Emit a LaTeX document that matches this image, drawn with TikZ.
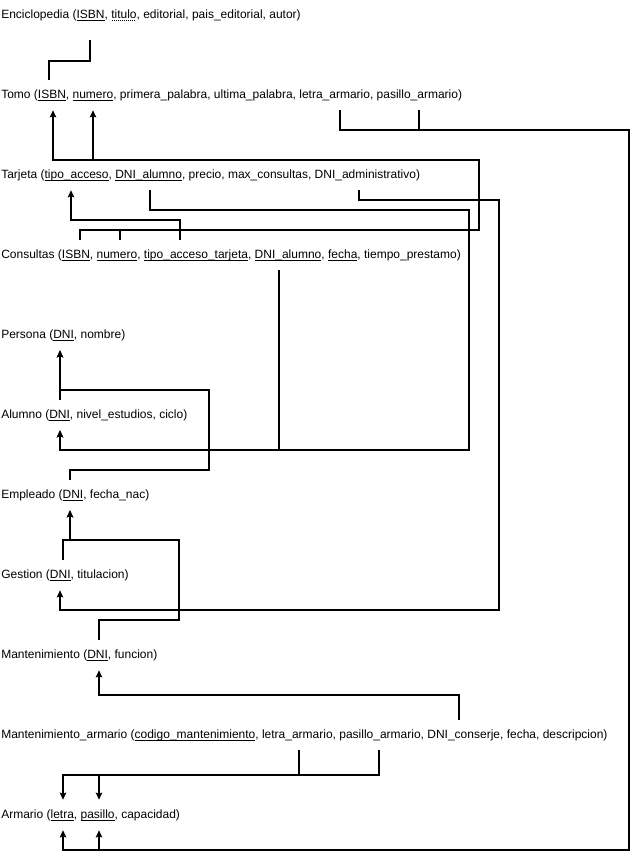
\documentclass[tikz,border=0pt]{standalone}
\usepackage{fontspec}
\setmainfont{Liberation Sans}
\usetikzlibrary{arrows.meta,calc}

% key attributes: plain and dotted underline
\newcommand\key[1]{\setbox0\hbox{#1}\rlap{\raisebox{-1.9pt}{\rule{\wd0}{0.55pt}}}\box0}
\newcommand\partkey[1]{\setbox0\hbox{#1}\rlap{\raisebox{-1.9pt}{\hbox to \wd0{\leaders\hbox to 1.5pt{\hss\rule{0.6pt}{0.6pt}\hss}\hfill}}}\box0}

\begin{document}
\begin{tikzpicture}[x=0.75pt, y=-0.75pt, >={Stealth[length=5.5pt,width=5pt,inset=1.2pt]},
    rel/.style={anchor=west, inner xsep=0pt, minimum height=22.5pt, font=\fontsize{9pt}{11pt}\selectfont},
    fk/.style={line width=0.8pt}]
    \useasboundingbox (0,0) rectangle (639,859);

    % Relations
    \node[rel] (enc) at (1,15) {Enciclopedia (\key{ISBN}, \partkey{titulo}, editorial, pais\_editorial, autor)};
    \node[rel] (tomo) at (1,95) {Tomo (\key{ISBN}, \key{numero}, primera\_palabra, ultima\_palabra, letra\_armario, pasillo\_armario)};
    \node[rel] (tarjeta) at (1,175) {Tarjeta (\key{tipo\_acceso}, \key{DNI\_alumno}, precio, max\_consultas, DNI\_administrativo)};
    \node[rel] (consultas) at (1,255) {Consultas (\key{ISBN}, \key{numero}, \key{tipo\_acceso\_tarjeta}, \key{DNI\_alumno}, \key{fecha}, tiempo\_prestamo)};
    \node[rel] (persona) at (1,335) {Persona (\key{DNI}, nombre)};
    \node[rel] (alumno) at (1,415) {Alumno (\key{DNI}, nivel\_estudios, ciclo)};
    \node[rel] (empleado) at (1,495) {Empleado (\key{DNI}, fecha\_nac)};
    \node[rel] (gestion) at (1,575) {Gestion (\key{DNI}, titulacion)};
    \node[rel] (mant) at (1,655) {Mantenimiento (\key{DNI}, funcion)};
    \node[rel] (mantarm) at (1,735) {Mantenimiento\_armario (\key{codigo\_mantenimiento}, letra\_armario, pasillo\_armario, DNI\_conserje, fecha, descripcion)};
    \node[rel] (armario) at (1,815) {Armario (\key{letra}, \key{pasillo}, capacidad)};

    % Enciclopedia - Tomo
    \draw[fk] ($(enc.south -| 90,0)+(0,10)$) |- (49,61) -- (tomo.north -| 49,0);

    % Tomo -> Armario
    \draw[fk, ->] (tomo.south -| 340,0) |- (629,130) -- (629,850) -| (armario.south -| 63,0);
    \draw[fk, ->] (tomo.south -| 419,0) |- (629,130) -- (629,850) -| (armario.south -| 99,0);

    % Consultas -> Tomo
    \draw[fk, ->] (consultas.north -| 80,0) |- (479,230) |- (53,160) -- (tomo.south -| 53,0);
    \draw[fk, ->] (consultas.north -| 120,0) |- (479,230) |- (93,160) -- (tomo.south -| 93,0);

    % Consultas -> Tarjeta
    \draw[fk, ->] (consultas.north -| 180,0) |- (71,220) -- (tarjeta.south -| 71,0);

    % -> Alumno
    \draw[fk, ->] (tarjeta.south -| 150,0) |- (469,210) |- (60,450) -- (alumno.south -| 60,0);
    \draw[fk, ->] (consultas.south -| 279,0) |- (60,450) -- (alumno.south -| 60,0);

    % Tarjeta -> Gestion
    \draw[fk, ->] (tarjeta.south -| 359,0) |- (499,200) |- (60,610) -- (gestion.south -| 60,0);

    % -> Persona
    \draw[fk, ->] (alumno.north -| 60,0) -- (persona.south -| 60,0);
    \draw[fk, ->] (empleado.north -| 70,0) |- (209,470) |- (60,390) -- (persona.south -| 60,0);

    % -> Empleado
    \draw[fk, ->] (gestion.north -| 63,0) |- (70,540) -- (empleado.south -| 70,0);
    \draw[fk, ->] (mant.north -| 99,0) |- (179,620) |- (70,540) -- (empleado.south -| 70,0);

    % Mantenimiento_armario -> Mantenimiento, Armario
    \draw[fk, ->] (mantarm.north -| 459,0) |- (99,695) -- (mant.south -| 99,0);
    \draw[fk, ->] (mantarm.south -| 299,0) |- (63,775) -- (armario.north -| 63,0);
    \draw[fk, ->] (mantarm.south -| 379,0) |- (99,775) -- (armario.north -| 99,0);
\end{tikzpicture}
\end{document}
